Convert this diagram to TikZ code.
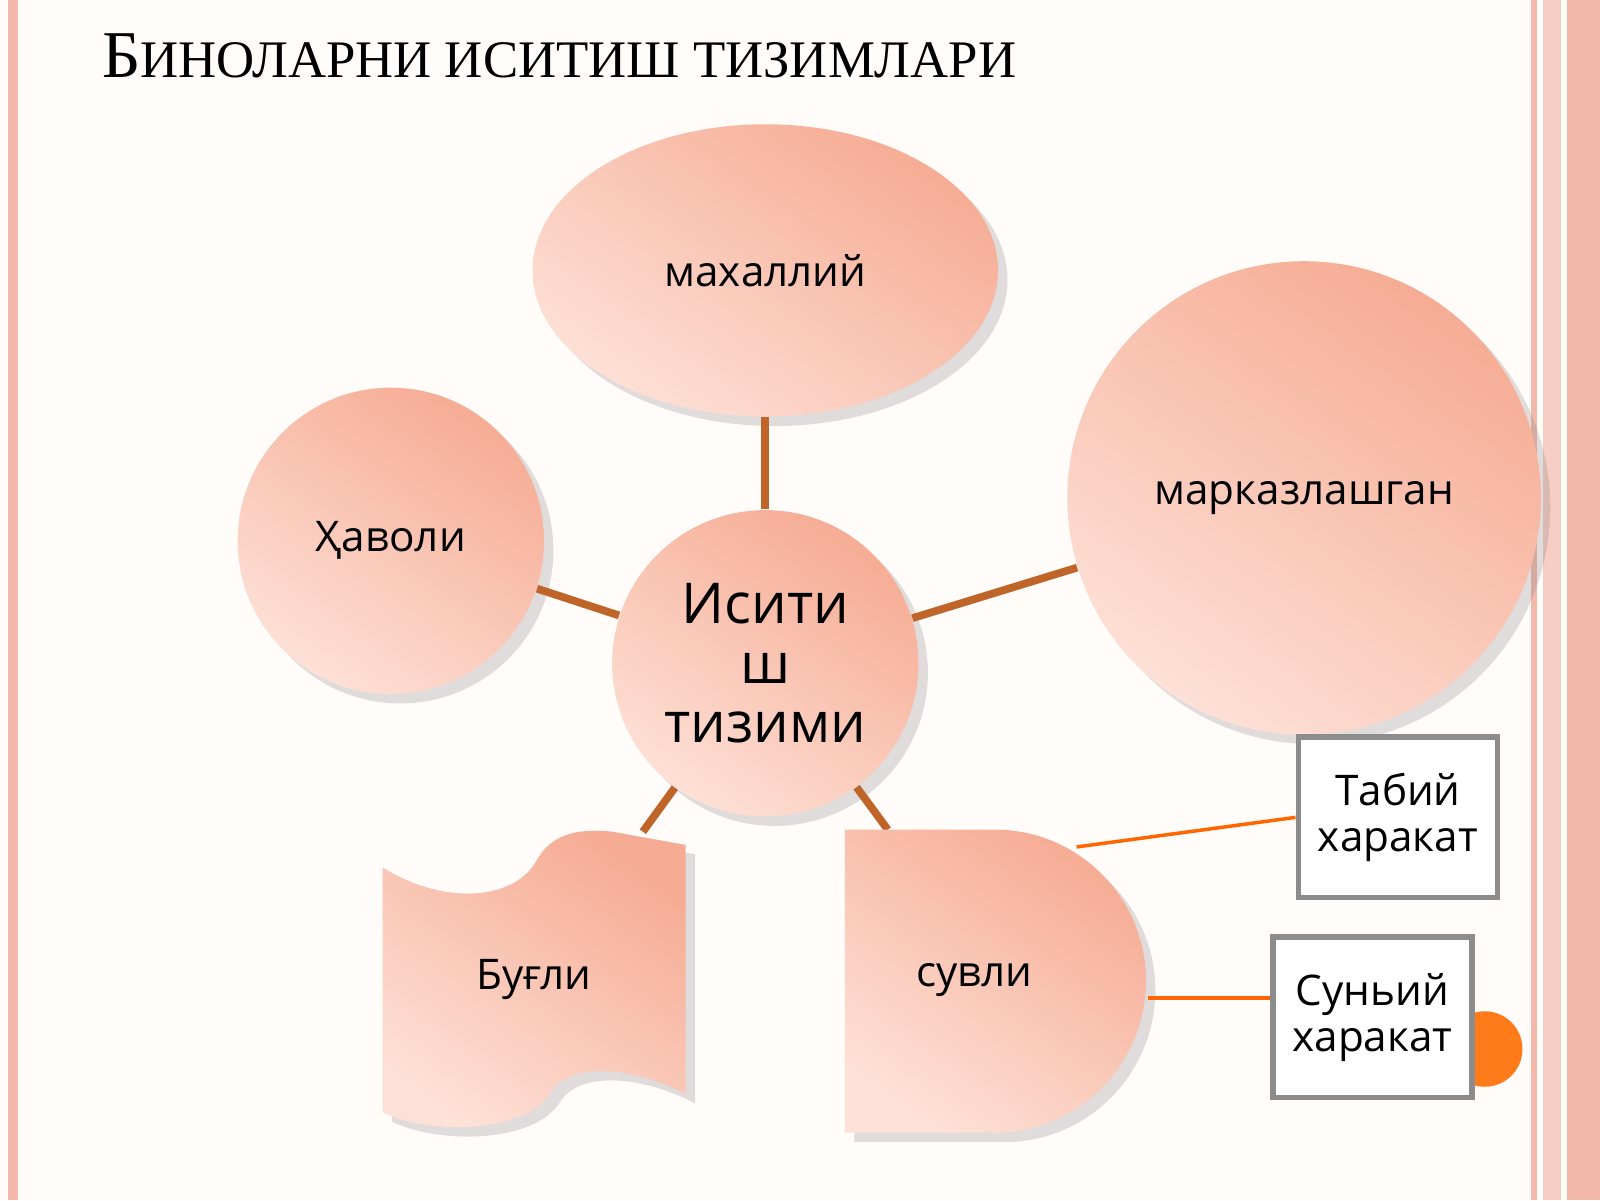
\documentclass[tikz,border=0pt]{standalone}
\usepackage{fontspec}
\setmainfont{Open Sans}
\newfontfamily\titlefont{Liberation Serif}
\usetikzlibrary{shapes.geometric,shadows}
\definecolor{peach}{HTML}{F6AC94}
\definecolor{peachlight}{HTML}{FDE0D6}
\definecolor{linkbrown}{HTML}{C0652A}
\definecolor{framepink}{HTML}{F2B9AA}
\tikzset{
  blob/.style={shading=axis, top color=peach, bottom color=peachlight,
    shading angle=-35, draw=none, drop shadow={opacity=0.25}},
  lbl/.style={font=\fontsize{12}{14}\selectfont},
  link/.style={draw=linkbrown, line width=2.2pt},
  thinlink/.style={draw=orange!80!red, line width=1pt},
  box/.style={draw=gray!90, line width=1.6pt, fill=white, minimum width=1.99cm,
    minimum height=1.6cm, align=center, font=\fontsize{12}{13}\selectfont}
}
\begin{document}
\begin{tikzpicture}[x=0.0102cm,y=-0.0102cm]
\useasboundingbox (0,0) rectangle (1568,1176);
\fill[white!98!orange] (0,0) rectangle (1568,1176);
% frame
\fill[framepink] (8,0) rectangle (18,1176);
\fill[framepink] (1500,0) rectangle (1506,1176);
\fill[framepink!70] (1512,0) rectangle (1530,1176);
\fill[framepink] (1536,0) rectangle (1568,1176);
% title
\node[anchor=west] (title) at (88,55) {\titlefont{\fontsize{19}{22}\selectfont Б}{\fontsize{15}{18}\selectfont ИНОЛАРНИ ИСИТИШ ТИЗИМЛАРИ}};
% connectors below shapes
\coordinate (bugtop) at (630,815);
\coordinate (suvtop) at (870,813);
\node[blob, ellipse, minimum width=4.65cm, minimum height=2.92cm, lbl] (local) at (750,265) {махаллий};
\node[blob, circle, minimum size=3.06cm, lbl] (air) at (383,530) {Ҳаволи};
\node[blob, circle, minimum size=4.73cm, lbl] (central) at (1278,488) {марказлашган};
\node[blob, circle, minimum size=3.06cm, align=center,
  font=\fontsize{16}{17}\selectfont] (heat) at (750,650) {Исити\\ш\\тизими};
\draw[link] (local) -- (heat);
\draw[link] (air) -- (heat);
\draw[link] (central) -- (heat);
\draw[link] (heat) -- (bugtop);
\draw[link] (heat) -- (suvtop);
% steam banner
\path[blob] (375,850) .. controls (430,885) and (500,885) .. (525,845)
  .. controls (540,815) and (570,812) .. (600,815) -- (672,828) -- (672,1072)
  .. controls (620,1045) and (560,1040) .. (540,1070)
  .. controls (515,1112) and (420,1112) .. (375,1090) -- cycle;
\node[lbl] (steam) at (523,960) {Буғли};
% water D shape
\path[blob] (828,813) -- (975,813) .. controls (1057,813) and (1123,880) .. (1123,961)
  .. controls (1123,1043) and (1057,1110) .. (975,1110) -- (828,1110) -- cycle;
\node[lbl] (water) at (955,960) {сувли};
\coordinate (suvright) at (1125,978);
\coordinate (suvup) at (1055,830);
\fill[orange!85!red!90] (1455,1028) circle[radius=37];
\node[box] (natural) at (1370,801) {Табий\\харакат};
\node[box] (forced) at (1345,997) {Суньий\\харакат};
\draw[thinlink] (suvup) -- (natural.west);
\draw[thinlink] (suvright) -- (forced.west |- suvright);
\end{tikzpicture}
\end{document}
